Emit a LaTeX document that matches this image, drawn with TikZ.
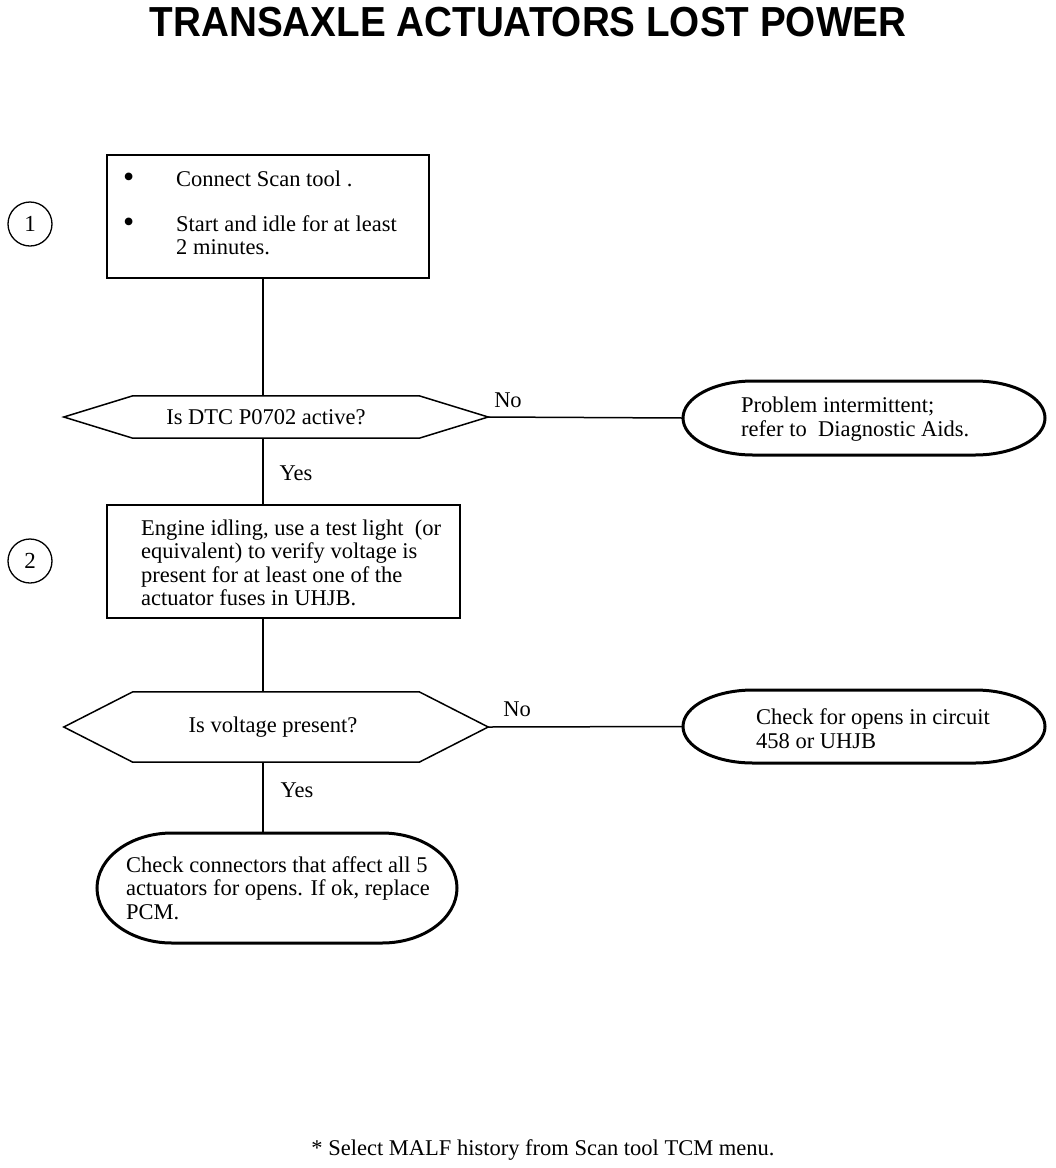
\documentclass[tikz,border=0pt]{standalone}
\usepackage{fontspec}
\setmainfont{Liberation Serif}
\newfontfamily\titlefont{Liberation Sans}[FakeStretch=0.92]
\usetikzlibrary{shapes.geometric}
\tikzset{
  txt/.style={font=\fontsize{22.5}{23.5}\selectfont, inner sep=0pt},
  blocktxt/.style={font=\fontsize{22.5}{23.5}\selectfont, inner sep=0pt, align=left, anchor=west},
  stepbox/.style={draw, line width=1.5pt, rectangle, inner sep=0pt},
  endoval/.style={ellipse, inner sep=0pt},
  ovalline/.style={line width=3pt},
  hexcore/.style={rectangle, inner sep=0pt, font=\fontsize{22.5}{23.5}\selectfont},
  hexline/.style={line width=1.5pt, line join=miter},
  numcirc/.style={draw, circle, line width=1.3pt, minimum size=44pt, inner sep=0pt, font=\fontsize{23}{23}\selectfont},
  conn/.style={line width=1.5pt}
}
\newcommand{\bigbul}{\raisebox{-1pt}{\fontsize{32}{0}\selectfont\textbullet}}
% oval with flat top/bottom and elliptic caps round a node centre:
% #1 node, #2 half flat length, #3 cap x radius, #4 half height
\newcommand{\capoval}[4]{%
  \begin{scope}[shift={(#1.center)}]
  \draw[ovalline] ({#2},{-#4})
    .. controls ({#2+0.5523*#3},{-#4}) and ({#2+#3},{-0.5523*#4}) .. ({#2+#3},0)
    .. controls ({#2+#3},{0.5523*#4}) and ({#2+0.5523*#3},{#4}) .. ({#2},{#4})
    -- ({-#2},{#4})
    .. controls ({-#2-0.5523*#3},{#4}) and ({-#2-#3},{0.5523*#4}) .. ({-#2-#3},0)
    .. controls ({-#2-#3},{-0.5523*#4}) and ({-#2-0.5523*#3},{-#4}) .. ({-#2},{-#4})
    -- cycle;
  \end{scope}}
\begin{document}
\begin{tikzpicture}[x=1pt,y=-1pt]
\useasboundingbox (0,0) rectangle (1056,1168);
% title
\node[inner sep=0pt, font=\titlefont\bfseries\fontsize{42}{42}\selectfont] (title) at (528,22) {TRANSAXLE ACTUATORS LOST POWER};
\coordinate (spine) at (263,0);
% step 1
\node[stepbox, minimum width=322pt, minimum height=123pt] (b1) at (268,216.5) {};
\node[blocktxt] (t1) at (123,216)
 {\begin{tabular}{@{}p{53pt}@{}l@{}}
 \bigbul & Connect Scan tool .\\[21pt]
 \bigbul & Start and idle for at least\\
  & 2 minutes.
 \end{tabular}};
\node[numcirc] (c1) at (30,224) {1};
% question 1
\node[hexcore, minimum width=424pt, minimum height=42pt] (q1) at (276,417) {\hspace*{-20pt}Is DTC P0702 active?};
\draw[hexline] (q1.west) -- ([xshift=69pt]q1.north west) -- ([xshift=-69pt]q1.north east) -- (q1.east) -- ([xshift=-69pt]q1.south east) -- ([xshift=69pt]q1.south west) -- cycle;
\node[endoval, minimum width=362pt, minimum height=74pt] (e1) at (864,418) {};
\capoval{e1}{111}{70}{37}
\node[blocktxt] (t2) at (741,419) {Problem intermittent;\\refer to\ \ Diagnostic Aids.};
% step 2
\node[stepbox, minimum width=353pt, minimum height=113pt] (b2) at (283.5,561.5) {};
\node[blocktxt] (t3) at (141,563)
 {Engine idling, use a test light\ \ (or\\equivalent) to verify voltage is\\present for at least one of the\\actuator fuses in UHJB.};
\node[numcirc] (c2) at (30,561) {2};
% question 2
\node[hexcore, minimum width=424pt, minimum height=70pt] (q2) at (276,727) {\hspace*{-6pt}Is voltage present?};
\draw[hexline] (q2.west) -- ([xshift=69pt]q2.north west) -- ([xshift=-69pt]q2.north east) -- (q2.east) -- ([xshift=-69pt]q2.south east) -- ([xshift=69pt]q2.south west) -- cycle;
\node[endoval, minimum width=362pt, minimum height=73pt] (e2) at (864,726.5) {};
\capoval{e2}{111}{70}{36.5}
\node[blocktxt] (t4) at (756,728.5) {Check for opens in circuit\\458 or UHJB};
\node[endoval, minimum width=360pt, minimum height=110pt] (e3) at (277,888) {};
\capoval{e3}{105}{75}{55}
\node[blocktxt] (t5) at (126,888)
 {Check connectors that affect all 5\\actuators for opens. If ok, replace\\PCM.};
% connectors
\draw[conn] (spine |- b1.south) -- (spine |- q1.north);
\draw[conn] (q1.east) -- (e1.west);
\draw[conn] (spine |- q1.south) -- (spine |- b2.north);
\draw[conn] (spine |- b2.south) -- (spine |- q2.north);
\draw[conn] (q2.east) -- (e2.west);
\draw[conn] (spine |- q2.south) -- (spine |- e3.north);
% labels
\node[txt] (no1) at (508,400) {No};
\node[txt] (yes1) at (296,473) {Yes};
\node[txt] (no2) at (517,709) {No};
\node[txt] (yes2) at (297,790) {Yes};
% footnote
\node[txt] (foot) at (543,1150) {* Select MALF history from Scan tool TCM menu.};
\end{tikzpicture}
\end{document}
